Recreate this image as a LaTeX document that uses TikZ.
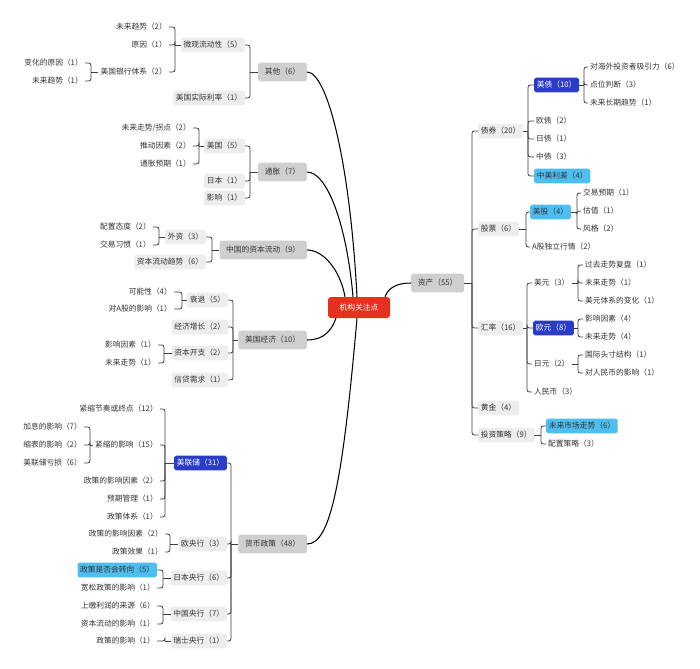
\documentclass[tikz,border=0pt]{standalone}
\usepackage{fontspec}
\setmainfont{Noto Sans CJK SC}
\usepackage{tikz}
\usetikzlibrary{calc}
\definecolor{rootred}{HTML}{E5321F}
\definecolor{greyA}{HTML}{CFCFCF}
\definecolor{greyB}{HTML}{EDEDED}
\definecolor{blueD}{HTML}{2B3CC8}
\definecolor{blueL}{HTML}{4DBEF0}
\definecolor{inkgrey}{HTML}{333333}
\tikzset{
	mmtext/.style={font=\fontsize{6.6}{8}\selectfont, text=inkgrey, inner ysep=0pt, minimum height=0.44cm},
	rootbox/.style={mmtext, fill=rootred, text=white, rounded corners=2.5pt, minimum height=0.63cm, inner xsep=0.35cm},
	topicbox/.style={mmtext, fill=greyA, rounded corners=2pt, minimum height=0.56cm, inner xsep=0.2cm},
	subbox/.style={mmtext, fill=greyB, rounded corners=1.5pt, inner xsep=0.08cm},
	leafbox/.style={mmtext, inner xsep=0.06cm},
	hotbox/.style={mmtext, fill=blueD, text=white, rounded corners=1.5pt, inner xsep=0.08cm},
	warmbox/.style={mmtext, fill=blueL, rounded corners=1.5pt, inner xsep=0.08cm},
	twig/.style={draw=black!75, line width=0.7pt},
	trunk/.style={draw=black, line width=0.9pt}
}
\newcommand\forkR[3]{%
	\draw[twig] (#1.east) -- (#2,0 |- #1.east);
	\foreach \c in {#3}{\draw[twig, rounded corners=2pt] (#2,0 |- #1.east) |- (\c.west);}
}
\newcommand\forkL[3]{%
	\draw[twig] (#1.west) -- (#2,0 |- #1.west);
	\foreach \c in {#3}{\draw[twig, rounded corners=2pt] (#2,0 |- #1.west) |- (\c.east);}
}

\begin{document}
\begin{tikzpicture}[x=0.03cm, y=0.03cm]
			%%%%% START %%%%%
			\useasboundingbox[fill=white] (0,0) rectangle (700,-668);
			
			\node[rootbox] (root) at (359,-307.5) {机构关注点};
			
			%%%%% RIGHT %%%%%
			\node[topicbox, anchor=west] (zc) at (411,-283) {资产（55）};
			
			\node[subbox, anchor=west] (zq) at (478,-131) {债券（20）};
			\node[subbox, anchor=west] (gp) at (478,-229) {股票（6）};
			\node[subbox, anchor=west] (hl) at (478,-328) {汇率（16）};
			\node[subbox, anchor=west] (hj) at (478,-408) {黄金（4）};
			\node[subbox, anchor=west] (tz) at (478,-435) {投资策略（9）};
			
			\node[hotbox, anchor=west] (mz) at (534,-85) {美债（10）};
			\node[leafbox, anchor=west] (oz) at (534,-121) {欧债（2）};
			\node[leafbox, anchor=west] (rz) at (534,-139) {日债（1）};
			\node[leafbox, anchor=west] (cz) at (534,-157) {中债（3）};
			\node[warmbox, anchor=west] (lc) at (534,-176) {中美利差（4）};
			
			\node[leafbox, anchor=west] (mz1) at (588,-67) {对海外投资者吸引力（6）};
			\node[leafbox, anchor=west] (mz2) at (588,-85) {点位判断（3）};
			\node[leafbox, anchor=west] (mz3) at (588,-103) {未来长期趋势（1）};
			
			\node[warmbox, anchor=west] (mg) at (530,-212) {美股（4）};
			\node[leafbox, anchor=west] (ag) at (530,-247) {A股独立行情（2）};
			\node[leafbox, anchor=west] (mg1) at (581,-193) {交易预期（1）};
			\node[leafbox, anchor=west] (mg2) at (581,-211) {估值（1）};
			\node[leafbox, anchor=west] (mg3) at (581,-229) {风格（2）};
			
			\node[leafbox, anchor=west] (my) at (532,-283) {美元（3）};
			\node[hotbox, anchor=west] (oy) at (533,-328) {欧元（8）};
			\node[leafbox, anchor=west] (ry) at (532,-364) {日元（2）};
			\node[leafbox, anchor=west] (rmb) at (532,-392) {人民币（3）};
			\node[leafbox, anchor=west] (my1) at (583,-265) {过去走势复盘（1）};
			\node[leafbox, anchor=west] (my2) at (583,-283) {未来走势（1）};
			\node[leafbox, anchor=west] (my3) at (583,-301) {美元体系的变化（1）};
			\node[leafbox, anchor=west] (oy1) at (583,-319) {影响因素（4）};
			\node[leafbox, anchor=west] (oy2) at (583,-337) {未来走势（4）};
			\node[leafbox, anchor=west] (ry1) at (583,-355) {国际头寸结构（1）};
			\node[leafbox, anchor=west] (ry2) at (583,-373) {对人民币的影响（1）};
			
			\node[warmbox, anchor=west] (tz1) at (546,-426) {未来市场走势（6）};
			\node[leafbox, anchor=west] (tz2) at (546,-444) {配置策略（3）};
			
			\forkR{zc}{472}{zq,gp,hl,hj,tz}
			\forkR{zq}{528}{mz,oz,rz,cz,lc}
			\forkR{mz}{584}{mz1,mz2,mz3}
			\forkR{gp}{526}{mg,ag}
			\forkR{mg}{577}{mg1,mg2,mg3}
			\forkR{hl}{527}{my,oy,ry,rmb}
			\forkR{my}{578}{my1,my2,my3}
			\forkR{oy}{578}{oy1,oy2}
			\forkR{ry}{578}{ry1,ry2}
			\forkR{tz}{541}{tz1,tz2}
			
			%%%%% LEFT %%%%%
			\node[topicbox, anchor=east] (qt) at (307,-72) {其他（6）};
			\node[topicbox, anchor=east] (tzh) at (307,-172) {通胀（7）};
			\node[topicbox, anchor=east] (zl) at (307,-250) {中国的资本流动（9）};
			\node[topicbox, anchor=east] (mj) at (307,-340) {美国经济（10）};
			\node[topicbox, anchor=east] (hb) at (307,-544) {货币政策（48）};
			
			\node[subbox, anchor=east] (wg) at (245,-45) {微观流动性（5）};
			\node[subbox, anchor=east] (sl) at (245,-98) {美国实际利率（1）};
			\node[leafbox, anchor=east] (wg1) at (169,-27) {未来趋势（2）};
			\node[leafbox, anchor=east] (wg2) at (169,-45) {原因（1）};
			\node[leafbox, anchor=east] (yh) at (169,-72) {美国银行体系（2）};
			\node[leafbox, anchor=east] (yh1) at (85,-63) {变化的原因（1）};
			\node[leafbox, anchor=east] (yh2) at (85,-81) {未来趋势（1）};
			
			\node[subbox, anchor=east] (tm) at (245,-146) {美国（5）};
			\node[subbox, anchor=east] (tr) at (245,-181) {日本（1）};
			\node[subbox, anchor=east] (ty) at (245,-198) {影响（1）};
			\node[leafbox, anchor=east] (tm1) at (193,-128) {未来走势/拐点（2）};
			\node[leafbox, anchor=east] (tm2) at (193,-146) {推动因素（2）};
			\node[leafbox, anchor=east] (tm3) at (193,-164) {通胀预期（1）};
			
			\node[subbox, anchor=east] (wz) at (206,-237) {外资（3）};
			\node[subbox, anchor=east] (lq) at (206,-262) {资本流动趋势（6）};
			\node[leafbox, anchor=east] (wz1) at (153,-227) {配置态度（2）};
			\node[leafbox, anchor=east] (wz2) at (153,-245) {交易习惯（1）};
			
			\node[subbox, anchor=east] (sh) at (228,-300) {衰退（5）};
			\node[subbox, anchor=east] (jz) at (228,-327) {经济增长（2）};
			\node[subbox, anchor=east] (zk) at (228,-353) {资本开支（2）};
			\node[subbox, anchor=east] (xd) at (228,-380) {信贷需求（1）};
			\node[leafbox, anchor=east] (sh1) at (174,-292) {可能性（4）};
			\node[leafbox, anchor=east] (sh2) at (174,-309) {对A股的影响（1）};
			\node[leafbox, anchor=east] (zk1) at (158,-345) {影响因素（1）};
			\node[leafbox, anchor=east] (zk2) at (158,-363) {未来走势（1）};
			
			\node[hotbox, anchor=east] (fed) at (227,-463) {美联储（31）};
			\node[subbox, anchor=east] (ecb) at (227,-544) {欧央行（3）};
			\node[subbox, anchor=east] (boj) at (227,-578) {日本央行（6）};
			\node[subbox, anchor=east] (pbc) at (227,-614) {中国央行（7）};
			\node[subbox, anchor=east] (snb) at (227,-641) {瑞士央行（1）};
			\node[leafbox, anchor=east] (fd1) at (160,-409) {紧缩节奏或终点（12）};
			\node[leafbox, anchor=east] (fd2) at (160,-445) {紧缩的影响（15）};
			\node[leafbox, anchor=east] (fd3) at (160,-481) {政策的影响因素（2）};
			\node[leafbox, anchor=east] (fd4) at (160,-499) {预期管理（1）};
			\node[leafbox, anchor=east] (fd5) at (160,-517) {政策体系（1）};
			\node[leafbox, anchor=east] (ss1) at (84,-427) {加息的影响（7）};
			\node[leafbox, anchor=east] (ss2) at (84,-445) {缩表的影响（2）};
			\node[leafbox, anchor=east] (ss3) at (84,-463) {美联储亏损（6）};
			\node[leafbox, anchor=east] (ecb1) at (165,-534) {政策的影响因素（2）};
			\node[leafbox, anchor=east] (ecb2) at (165,-552) {政策效果（1）};
			\node[warmbox, anchor=east] (boj1) at (157,-570) {政策是否会转向（5）};
			\node[leafbox, anchor=east] (boj2) at (157,-588) {宽松政策的影响（1）};
			\node[leafbox, anchor=east] (pbc1) at (157,-606) {上缴利润的来源（6）};
			\node[leafbox, anchor=east] (pbc2) at (157,-624) {资本流动的影响（1）};
			\node[leafbox, anchor=east] (snb1) at (157,-641) {政策的影响（1）};
			
			\forkL{qt}{250}{wg,sl}
			\forkL{wg}{175}{wg1,wg2,yh}
			\forkL{yh}{91}{yh1,yh2}
			\forkL{tzh}{250}{tm,tr,ty}
			\forkL{tm}{199}{tm1,tm2,tm3}
			\forkL{zl}{212}{wz,lq}
			\forkL{wz}{159}{wz1,wz2}
			\forkL{mj}{233}{sh,jz,zk,xd}
			\forkL{sh}{182}{sh1,sh2}
			\forkL{zk}{164}{zk1,zk2}
			\forkL{hb}{231}{fed,ecb,boj,pbc,snb}
			\forkL{fed}{165}{fd1,fd2,fd3,fd4,fd5}
			\forkL{fd2}{90}{ss1,ss2,ss3}
			\forkL{ecb}{170}{ecb1,ecb2}
			\forkL{boj}{163}{boj1,boj2}
			\forkL{pbc}{163}{pbc1,pbc2}
			\forkL{snb}{165}{snb1}
			
			%%%%% TRUNKS %%%%%
			\draw[trunk] (qt.east) to[out=0, in=93, out distance=0.6cm, in distance=4.1cm] ([xshift=-0.06cm]root.north);
			\draw[trunk] (tzh.east) to[out=0, in=95, out distance=0.6cm, in distance=2.2cm] ([xshift=-0.18cm]root.north);
			\draw[trunk] (zl.east) to[out=0, in=100, out distance=0.5cm, in distance=0.8cm] ([xshift=-0.42cm]root.north);
			\draw[trunk] (mj.east) to[out=0, in=250, out distance=0.5cm, in distance=0.4cm] ([xshift=-0.69cm]root.south);
			\draw[trunk] (hb.east) to[out=0, in=265, out distance=0.7cm, in distance=5cm] ([xshift=-0.06cm]root.south);
			\draw[trunk] ([xshift=0.78cm]root.north) to[out=70, in=180, out distance=0.3cm, in distance=0.4cm] (zc.west);
			
			%%%%% END %%%%%
		\end{tikzpicture}
\end{document}
